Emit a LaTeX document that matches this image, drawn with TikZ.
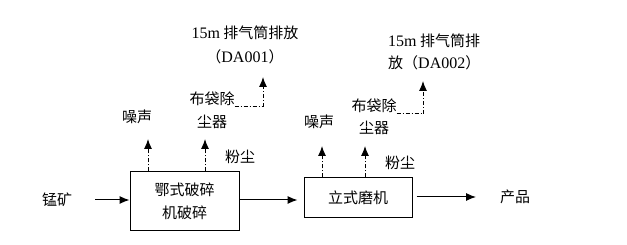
\documentclass[tikz,border=0pt]{standalone}
\usepackage{fontspec}
\setmainfont{Liberation Serif}
\newfontfamily\cjk{Noto Sans CJK SC}
\usetikzlibrary{arrows.meta,calc}
\begin{document}
\begin{tikzpicture}[x=1pt,y=-1pt,
  every node/.style={font=\cjk\fontsize{15}{18}\selectfont, inner sep=0pt},
  box/.style={draw, line width=1pt, align=center, font=\cjk\fontsize{15}{23}\selectfont},
  arr/.style={line width=1pt, -{Latex[length=10pt,width=8pt]}},
  darr/.style={line width=1pt, dash pattern=on 4pt off 2pt on 1pt off 2pt, -{Latex[length=10pt,width=8pt]}},
  ddline/.style={line width=1pt, dash pattern=on 4pt off 2pt on 1pt off 2pt}]
\useasboundingbox (0,0) rectangle (627,245);
% boxes
\node[box, minimum width=109pt, minimum height=59pt] (b1) at (184.5,201.5) {鄂式破碎\\机破碎};
\node[box, minimum width=108pt, minimum height=40pt] (b2) at (358,198) {立式磨机};
% labels
\node (ore) at (57,200) {锰矿};
\node (prod) at (515,197) {产品};
\node (n1) at (137,117) {噪声};
\node (bda) at (212,99) {布袋除};
\node (bdb) at (212,122) {尘器};
\node (dust1) at (240,157) {粉尘};
\node (s1a) at (245,33) {{\rmfamily\fontsize{16}{18}\selectfont 15m} 排气筒排放};
\node (s1b) at (245,57) {（{\rmfamily\fontsize{16}{18}\selectfont DA001}）};
\node (n2) at (319,122) {噪声};
\node (bdc) at (374,106) {布袋除};
\node (bdd) at (374,128) {尘器};
\node (dust2) at (400,163) {粉尘};
\node[anchor=west] (s2a) at (388,41) {{\rmfamily\fontsize{16}{18}\selectfont 15m} 排气筒排};
\node[anchor=west] (s2b) at (388,63) {放（{\rmfamily\fontsize{16}{18}\selectfont DA002}）};
% coordinates
\coordinate (in0) at (95,200);
\coordinate (out0) at (476,197);
\coordinate (t1) at (148,139);
\coordinate (t2) at (205,139);
\coordinate (t3) at (322,146);
\coordinate (t4) at (365,146);
\coordinate (k1) at (263,107);
\coordinate (e1) at (263,77);
\coordinate (k2) at (423,114);
\coordinate (e2) at (423,81);
% main flow
\draw[arr] (in0) -- (in0 -| b1.west);
\draw[arr, shorten >=6pt] (b1.east |- 0,200) -- (b2.west |- 0,200);
\draw[arr, shorten <=4pt] (b2.east |- out0) -- (out0);
% emissions
\draw[darr] (b1.north -| t1) -- (t1);
\draw[darr] (b1.north -| t2) -- (t2);
\draw[darr] (b2.north -| t3) -- (t3);
\draw[darr] (b2.north -| t4) -- (t4);
\draw[ddline] (bda.east |- k1) -- (k1);
\draw[darr] (k1) -- (e1);
\draw[ddline] (bdc.east |- k2) -- (k2);
\draw[darr] (k2) -- (e2);
\end{tikzpicture}
\end{document}
